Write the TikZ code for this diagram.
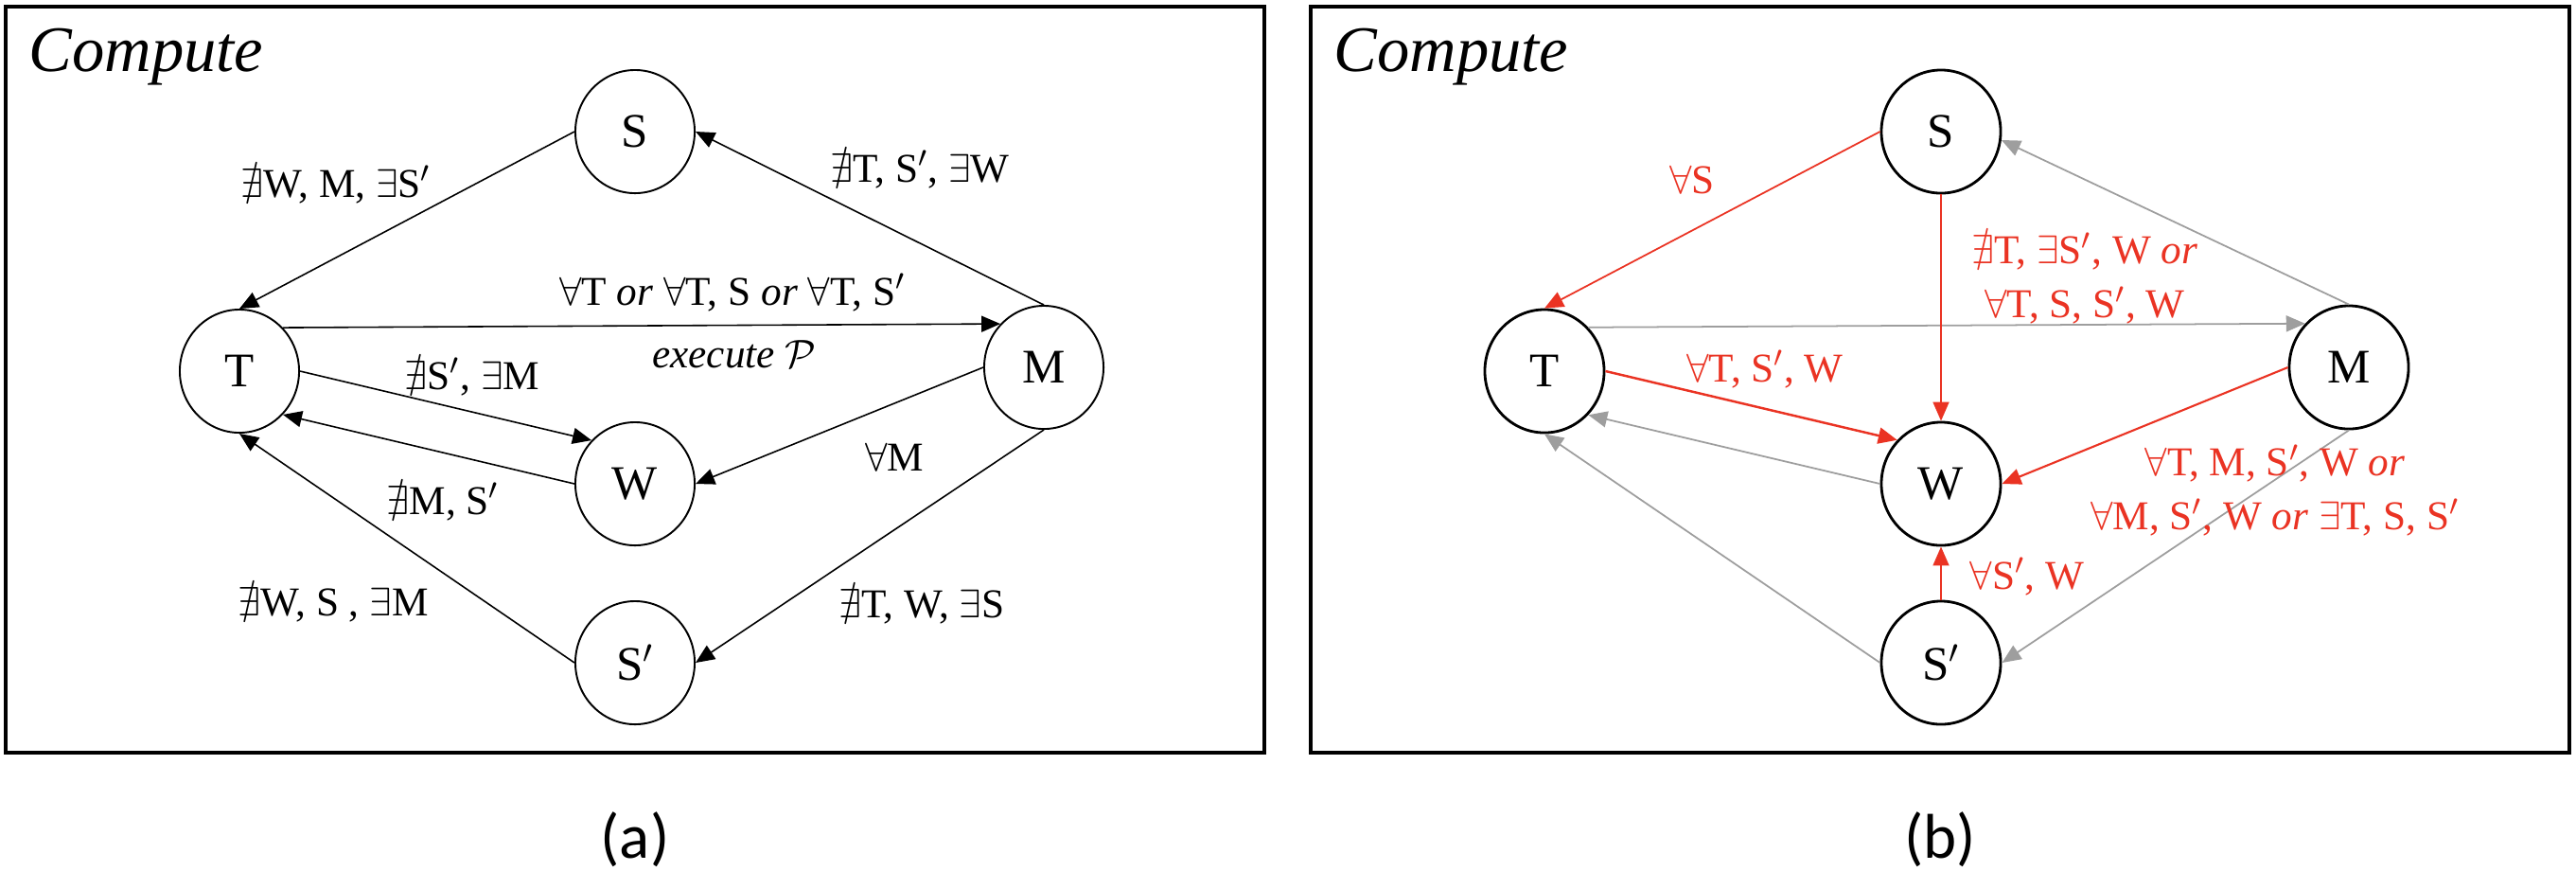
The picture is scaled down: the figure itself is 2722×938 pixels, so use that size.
\documentclass[tikz,border=0pt]{standalone}
\usepackage{amsmath,amssymb}
\usepackage{fontspec}
\setmainfont{Liberation Serif}
\newfontfamily\capfont{Carlito}
\usepackage{tikz}
\usetikzlibrary{arrows.meta,shapes.geometric}
\definecolor{hotred}{RGB}{234,51,35}
\definecolor{dimgray}{RGB}{158,158,158}

\begin{document}
\begin{tikzpicture}[
    x=0.01cm, y=-0.01cm,
    panel/.style={draw, line width=0.9pt},
    state/.style={draw, ellipse, minimum width=1.26cm, minimum height=1.3cm, inner sep=0pt, line width=0.55pt, font=\fontsize{14.5}{16}\selectfont},
    boldstate/.style={state, line width=0.8pt},
    cond/.style={font=\fontsize{12.3}{16.2}\selectfont, align=center, inner sep=0pt},
    title/.style={anchor=base west, inner sep=0pt, font=\fontsize{19.5}{22}\selectfont\itshape},
    arr/.style={-{Triangle[length=2mm, width=1.7mm]}, line width=0.45pt},
    redarr/.style={arr, hotred, line width=0.5pt},
    grayarr/.style={arr, dimgray, line width=0.5pt},
]
\useasboundingbox (0,0) rectangle (2722,938);

% (a)
\draw[panel] (6,7) rectangle (1336,795);
\node[title] (ta) at (30,75) {Compute};

\node[state] (Sa) at (671,139) {S};
\node[state] (Ta) at (253,392) {T};
\node[state] (Ma) at (1103,388) {M};
\node[state] (Wa) at (671,511) {W};
\node[state] (Spa) at (671,700) {S$'$};

\draw[arr] (Sa.west) -- (Ta.north);
\draw[arr] (Ma.north) -- (Sa.east);
\draw[arr] (Ta.45) -- (Ma.135);
\draw[arr] (Ta.east) -- (Wa.135);
\draw[arr] (Wa.west) -- (Ta.-45);
\draw[arr] (Spa.west) -- (Ta.south);
\draw[arr] (Ma.west) -- (Wa.east);
\draw[arr] (Ma.south) -- (Spa.east);

\node[cond, anchor=base] (la1) at (355,208) {$\nexists$W, M, $\exists$S$'$};
\node[cond, anchor=base] (la2) at (972,192) {$\nexists$T, S$'$, $\exists$W};
\node[cond, anchor=base] (la3) at (774,322) {$\forall$T \textit{or} $\forall$T, S \textit{or} $\forall$T, S$'$};
\node[cond, anchor=base] (la4) at (776,388) {\textit{execute} $\mathcal{P}$};
\node[cond, anchor=base] (la5) at (499,411) {$\nexists$S$'$, $\exists$M};
\node[cond, anchor=base] (la6) at (468,543) {$\nexists$M, S$'$};
\node[cond, anchor=base] (la7) at (352,650) {$\nexists$W, S , $\exists$M};
\node[cond, anchor=base] (la8) at (945,497) {$\forall$M};
\node[cond, anchor=base] (la9) at (974,652) {$\nexists$T, W, $\exists$S};

% (b)
\draw[panel] (1385,7) rectangle (2715,795);
\node[title] (tb) at (1409,75) {Compute};

\node[boldstate] (Sb) at (2051,139) {S};
\node[boldstate] (Tb) at (1632,392) {T};
\node[boldstate] (Mb) at (2482,388) {M};
\node[boldstate] (Wb) at (2051,511) {W};
\node[boldstate] (Spb) at (2051,700) {S$'$};

\draw[grayarr] (Mb.north) -- (Sb.-8);
\draw[grayarr] (Tb.45) -- (Mb.135);
\draw[grayarr] (Wb.west) -- (Tb.-45);
\draw[grayarr] (Spb.west) -- (Tb.south);
\draw[grayarr] (Mb.south) -- (Spb.east);
\draw[redarr] (Sb.west) -- (Tb.north);
\draw[redarr] (Sb.south) -- (Wb.north);
\draw[redarr, line width=0.7pt] (Tb.east) -- (Wb.135);
\draw[redarr, line width=0.6pt] (Mb.west) -- (Wb.east);
\draw[redarr] (Spb.north) -- (Wb.south);

\node[cond, hotred, anchor=base] (lb1) at (1788,204) {$\forall$S};
\node[cond, hotred] (lb2) at (2203,294) {$\nexists$T, $\exists$S$'$, W \textit{or}\\$\forall$T, S, S$'$, W};
\node[cond, hotred, anchor=base] (lb3) at (1865,403) {$\forall$T, S$'$, W};
\node[cond, hotred] (lb4) at (2404,518) {$\forall$T, M, S$'$, W \textit{or}\\$\forall$M, S$'$, W \textit{or} $\exists$T, S, S$'$};
\node[cond, hotred, anchor=base] (lb5) at (2142,622) {$\forall$S$'$, W};

% captions
\node[font=\capfont\fontsize{19}{22}\selectfont] (capa) at (671,887) {(a)};
\node[font=\capfont\fontsize{19}{22}\selectfont] (capb) at (2050,887) {(b)};
\end{tikzpicture}
\end{document}
